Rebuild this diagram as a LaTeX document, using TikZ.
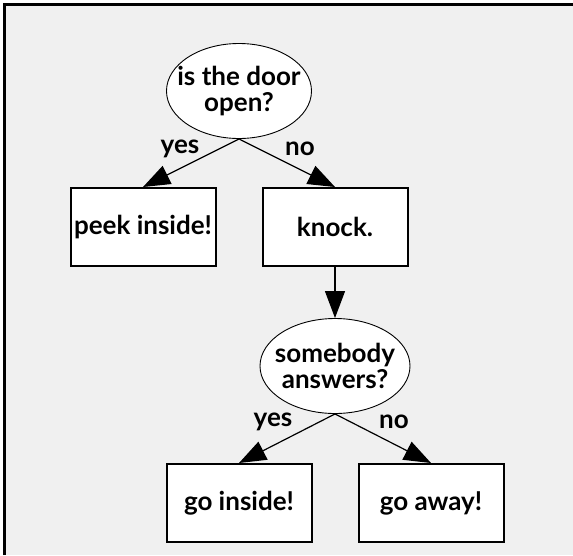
\documentclass[tikz,border=0pt]{standalone}
\usepackage{fontspec}
\setmainfont{Lato}
\usetikzlibrary{shapes.geometric,arrows.meta}
\definecolor{bggray}{RGB}{240,240,240}
\tikzset{
  txt/.style={font=\fontsize{26}{26}\selectfont\bfseries, text=black},
  question/.style={ellipse, draw=black, line width=0.9pt, fill=white, minimum width=145pt, minimum height=95pt, inner xsep=-25pt, inner ysep=-15pt, align=center, txt},
  action/.style={rectangle, draw=black, line width=2pt, fill=white, minimum width=145pt, minimum height=78pt, inner sep=0pt, align=center, txt},
  edge/.style={line width=1.2pt, -{Triangle[length=27pt,width=20pt]}},
  lbl/.style={txt, inner sep=0pt}
}
\begin{document}
\begin{tikzpicture}[x=1pt,y=-1pt]
\useasboundingbox (0,0) rectangle (573,555);
\fill[white] (0,0) rectangle (573,555);
\fill[bggray] (4,4) rectangle (573,555);
\draw[line width=3pt] (4,555) -- (4,4) -- (573,4);

\node[question] (q1) at (239,91) {is the door\\open?};
\node[action] (peek) at (143,227) {peek inside!};
\node[action] (knock) at (335,227) {knock.};
\node[question, minimum width=150pt] (q2) at (335,366) {somebody\\answers?};
\node[action] (goin) at (239,503) {go inside!};
\node[action] (goaway) at (431,503) {go away!};

\draw[edge] (q1.south) -- (peek.north);
\draw[edge] (q1.south) -- (knock.north);
\draw[edge] (knock.south) -- (q2.north);
\draw[edge] (q2.south) -- (goin.north);
\draw[edge] (q2.south) -- (goaway.north);

\node[lbl] (y1) at (180,149) {yes};
\node[lbl] (n1) at (300,149) {no};
\node[lbl] (y2) at (273,422) {yes};
\node[lbl] (n2) at (394,422) {no};
\end{tikzpicture}
\end{document}
